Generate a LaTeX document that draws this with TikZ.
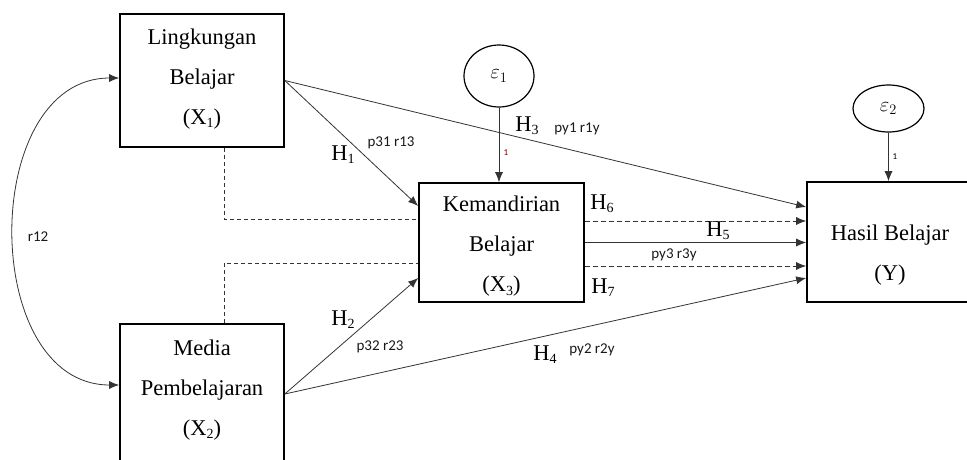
\documentclass[tikz,border=0pt]{standalone}
\usepackage{fontspec}
\setmainfont{Liberation Serif}
\newfontfamily\coeffont{Carlito}
\usetikzlibrary{arrows.meta,shapes.geometric}
\newcommand{\lowsub}[1]{\raisebox{-0.3ex}{\fontsize{14}{14}\selectfont #1}}

\begin{document}
\begin{tikzpicture}[x=1pt,y=-1pt,
	box/.style={draw,line width=1.6pt,minimum width=164pt,inner sep=0pt},
	boxtxt/.style={align=center,font=\fontsize{22.5}{40}\selectfont},
	hyp/.style={font=\fontsize{22.5}{24}\selectfont},
	coef/.style={font=\coeffont\fontsize{15}{16}\selectfont,black!90},
	one/.style={font=\coeffont\fontsize{9}{10}\selectfont},
	err/.style={draw,ellipse,line width=1.2pt,inner sep=0pt,font=\fontsize{22}{22}\selectfont},
	arr/.style={-{Latex[length=10pt,width=8pt]},line width=0.8pt,black!80},
	darr/.style={arr,dash pattern=on 5pt off 3pt},
	dline/.style={line width=0.8pt,black!80,dash pattern=on 4pt off 3pt}]
	\useasboundingbox (0,0) rectangle (967,459);
	
	% variabel
	\node[box,minimum height=133pt] (X1) at (202,80.5) {};
	\node[boxtxt] (X1t) at (202,79) {Lingkungan\\Belajar\\(X\lowsub{1})};
	\node[box,minimum height=140pt] (X2) at (202,394) {};
	\node[boxtxt] (X2t) at (202,390) {Media\\Pembelajaran\\(X\lowsub{2})};
	\node[box,minimum width=165pt,minimum height=119pt] (X3) at (501.5,242.5) {};
	\node[boxtxt] (X3t) at (501.5,246.5) {Kemandirian\\Belajar\\(X\lowsub{3})};
	\node[box,minimum width=166pt,minimum height=120pt] (Y) at (890,242) {};
	\node[boxtxt] (Yt) at (890,255) {Hasil Belajar\\(Y)};
	
	\node[err,minimum width=70pt,minimum height=62pt] (e1) at (499,76) {$\varepsilon_1$};
	\node[err,minimum width=71pt,minimum height=47pt] (e2) at (888.5,108.5) {$\varepsilon_2$};
	
	% jalur
	\draw[arr] (e1.south) -- (e1.south |- X3.north);
	\draw[arr] (e2.south) -- (e2.south |- Y.north);
	\draw[arr,{Latex[length=10pt,width=8pt]}-{Latex[length=10pt,width=8pt]}] ([yshift=2.5pt]X1.west) .. controls +(-140,0) and +(-140,0) .. ([yshift=9pt]X2.west);
	
	\draw[arr] (X1.east) -- ([yshift=36.5pt]X3.west);
	\draw[arr] (X1.east) -- ([yshift=35pt]Y.west);
	\draw[arr] (X2.east) -- ([yshift=-35.5pt]X3.west);
	\draw[arr] (X2.east) -- ([yshift=-36pt]Y.west);
	
	\draw[darr] (X3.east) ++(0,-21.5) coordinate (h6) -- (h6 -| Y.west);
	\draw[arr] (X3.east) -- (X3.east -| Y.west);
	\draw[darr] (X3.east) ++(0,23.5) coordinate (h7) -- (h7 -| Y.west);
	
	\draw[dline] ([xshift=22pt]X1.south) |- ([yshift=23.5pt]X3.west);
	\draw[dline] ([xshift=22pt]X2.north) |- ([yshift=-20.5pt]X3.west);
	
	% label
	\node[hyp] (H1) at (343,155) {H\lowsub{1}};
	\node[coef] (c31) at (391,143) {p31 r13};
	\node[hyp] (H3) at (527,126) {H\lowsub{3}};
	\node[coef] (cy1) at (577,129) {py1 r1y};
	\node[hyp] (H2) at (343,320) {H\lowsub{2}};
	\node[coef] (c32) at (380,347) {p32 r23};
	\node[hyp] (H4) at (545,355) {H\lowsub{4}};
	\node[coef] (cy2) at (592,350) {py2 r2y};
	\node[hyp] (H6) at (602,204) {H\lowsub{6}};
	\node[hyp] (H5) at (718,231) {H\lowsub{5}};
	\node[coef] (cy3) at (674,255) {py3 r3y};
	\node[hyp] (H7) at (603,288) {H\lowsub{7}};
	\node[one,red!40!black] (o1) at (506,153) {1};
	\node[one] (o2) at (895,157) {1};
	\node[coef] (r12) at (38,237) {r12};
	
\end{tikzpicture}
\end{document}
